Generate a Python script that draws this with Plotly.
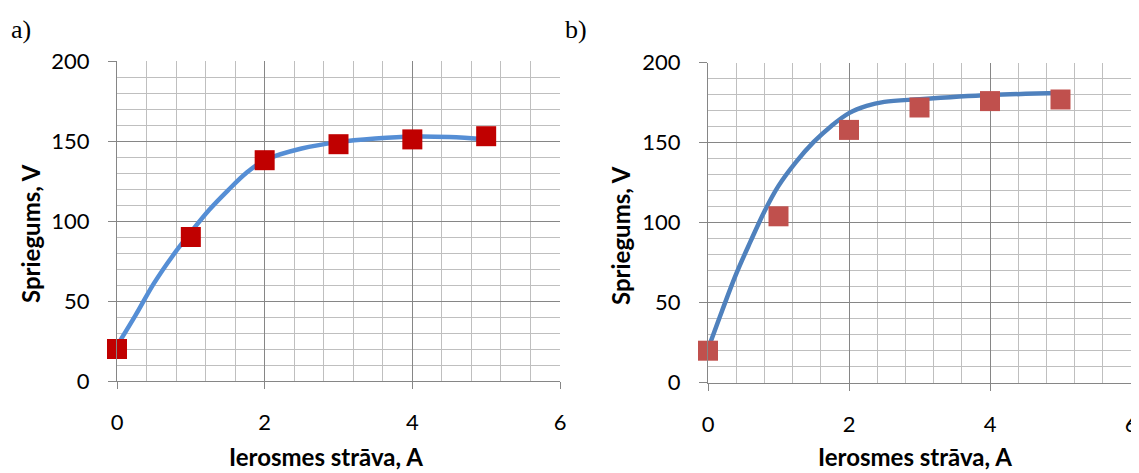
import plotly.graph_objects as go

# ---- data ----
current_pts = [0, 1, 2, 3, 4, 5]
voltage_a = [20, 90, 138, 148, 151, 153]
voltage_b = [20, 104, 158, 172, 176, 177]

curve_a_x = [0, 0.25, 0.5, 0.75, 1, 1.25, 1.5, 1.75, 2, 2.5, 3, 3.5, 4, 4.5, 5]
curve_a_y = [22, 41, 61, 78, 93, 107, 119, 130, 138, 145.3, 149.3, 151.5, 152.8, 152.5, 151]

curve_b_x = [0, 0.2, 0.4, 0.6, 0.8, 1.0, 1.25, 1.5, 1.75, 2.0, 2.25, 2.5, 3, 4, 5]
curve_b_y = [21, 45, 68, 88, 107, 123, 138, 150.5, 160.5, 168.5, 173, 175.5, 177.2, 179.8, 181]

x_ticks = [0, 2, 4, 6]
y_ticks = [0, 50, 100, 150, 200]

# page body has an 8px margin; figure sized to fit window exactly
OFF = 8
W, H = 1139 - OFF, 473 - OFF

def px(x):
    return (x - OFF) / W

def py(y):
    return 1 - (y - OFF) / H

fig = go.Figure()

fig.add_trace(go.Scatter(x=curve_a_x, y=curve_a_y, mode="lines",
                         line=dict(color="#558ED5", width=4.5, shape="spline", smoothing=1.0),
                         xaxis="x", yaxis="y", showlegend=False, hoverinfo="skip", cliponaxis=False))
fig.add_trace(go.Scatter(x=current_pts, y=voltage_a, mode="markers",
                         marker=dict(symbol="square", size=20, color="#C00000", line=dict(width=0)),
                         xaxis="x", yaxis="y", showlegend=False, cliponaxis=False))
fig.add_trace(go.Scatter(x=curve_b_x, y=curve_b_y, mode="lines",
                         line=dict(color="#4F81BD", width=4.5, shape="spline", smoothing=1.0),
                         xaxis="x2", yaxis="y2", showlegend=False, hoverinfo="skip", cliponaxis=False))
fig.add_trace(go.Scatter(x=current_pts, y=voltage_b, mode="markers",
                         marker=dict(symbol="square", size=20, color="#C0504D", line=dict(width=0)),
                         xaxis="x2", yaxis="y2", showlegend=False, cliponaxis=False))

tickfont = dict(family="Lato, Open Sans, sans-serif", size=22, color="#000000")
major = "#868686"
minor = "#BFBFBF"

def xax(domain, anchor):
    return dict(domain=domain, anchor=anchor, range=[0, 6], tickvals=x_ticks,
                showgrid=True, gridcolor=major, gridwidth=1,
                minor=dict(dtick=0.4, tick0=0, showgrid=True, gridcolor=minor, gridwidth=1, ticks=""),
                showline=True, linecolor=major, linewidth=1, mirror=False,
                ticks="outside", ticklen=7, tickcolor=major, tickwidth=1,
                tickfont=tickfont, ticklabelstandoff=15, zeroline=False, fixedrange=True,
                automargin=False)

def yax(domain, anchor):
    return dict(domain=domain, anchor=anchor, range=[0, 200], tickvals=y_ticks,
                showgrid=True, gridcolor=major, gridwidth=1,
                minor=dict(dtick=10, tick0=0, showgrid=True, gridcolor=minor, gridwidth=1, ticks=""),
                showline=True, linecolor=major, linewidth=1, mirror=False,
                ticks="outside", ticklen=8, tickcolor=major, tickwidth=1,
                tickfont=tickfont, ticklabelstandoff=14, zeroline=False, fixedrange=True,
                automargin=False)

fig.update_layout(
    template="none",
    width=W, height=H,
    margin=dict(l=0, r=0, t=0, b=0, pad=0, autoexpand=False),
    paper_bgcolor="white", plot_bgcolor="white",
    xaxis=xax([px(117), px(560)], "y"),
    yaxis=yax([py(381), py(61)], "x"),
    xaxis2=xax([px(708), px(1131)], "y2"),
    yaxis2=yax([py(382.7), py(62.7)], "x2"),
)

titlefont = dict(family="Lato, Open Sans, sans-serif", size=24, color="#000000")
serif = dict(family="Liberation Serif, Times New Roman, serif", size=26, color="#000000")

ann = [
    dict(text="<b>Ierosmes strāva, A</b>", x=px(326), y=0, yanchor="bottom", font=titlefont),
    dict(text="<b>Spriegums, V</b>", x=px(30), y=py(234), font=titlefont, textangle=-90),
    dict(text="<b>Ierosmes strāva, A</b>", x=px(915), y=0, yanchor="bottom", font=titlefont),
    dict(text="<b>Spriegums, V</b>", x=px(621), y=py(236), font=titlefont, textangle=-90),
    dict(text="a)", x=px(21), y=py(29), font=serif),
    dict(text="b)", x=px(576), y=py(29), font=serif),
]
for a in ann:
    a.setdefault("yanchor", "middle")
    a.update(xref="paper", yref="paper", showarrow=False, xanchor="center")
fig.update_layout(annotations=ann)

fig.write_html("out.html")
